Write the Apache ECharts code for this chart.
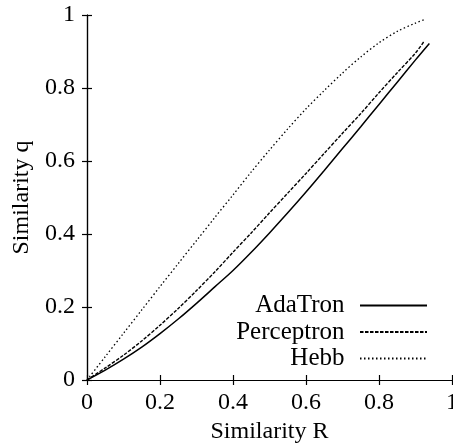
<!DOCTYPE html>
<html>
<head>
<meta charset="utf-8">
<script src="https://cdn.jsdelivr.net/npm/echarts@6/dist/echarts.min.js"></script>
<style>
html,body{margin:0;padding:0;background:#fff;}
#chart{width:453px;height:445px;}
</style>
</head>
<body>
<div id="chart"></div>
<script>
// Data
var seriesNames = ['AdaTron', 'Perceptron', 'Hebb'];
var adatronR = [0, 0.05, 0.1, 0.15, 0.2, 0.25, 0.3, 0.35, 0.4, 0.45, 0.5, 0.55, 0.6, 0.65, 0.7, 0.75, 0.8, 0.85, 0.9, 0.938];
var adatronQ = [0, 0.027, 0.057, 0.09, 0.127, 0.167, 0.21, 0.255, 0.30, 0.35, 0.403, 0.458, 0.515, 0.574, 0.634, 0.694, 0.755, 0.816, 0.877, 0.922];
var perceptronR = [0, 0.05, 0.1, 0.15, 0.2, 0.25, 0.3, 0.35, 0.4, 0.45, 0.5, 0.55, 0.6, 0.65, 0.7, 0.75, 0.8, 0.85, 0.9, 0.925];
var perceptronQ = [0, 0.033, 0.068, 0.107, 0.15, 0.196, 0.245, 0.296, 0.35, 0.403, 0.458, 0.512, 0.566, 0.621, 0.676, 0.73, 0.787, 0.842, 0.896, 0.93];
var hebbR = [0, 0.05, 0.1, 0.15, 0.2, 0.25, 0.3, 0.35, 0.4, 0.45, 0.5, 0.55, 0.6, 0.65, 0.7, 0.75, 0.8, 0.85, 0.9, 0.926];
var hebbQ = [0, 0.064, 0.128, 0.192, 0.256, 0.319, 0.382, 0.445, 0.507, 0.57, 0.63, 0.688, 0.743, 0.793, 0.841, 0.885, 0.924, 0.955, 0.978, 0.988];
var xTicks = [0, 0.2, 0.4, 0.6, 0.8, 1];
var yTicks = [0, 0.2, 0.4, 0.6, 0.8, 1];

function pairs(xs, ys) { return xs.map(function (x, i) { return [x, ys[i]]; }); }
function fmt(v) { return String(Math.round(v * 10) / 10); }

var font = '"Liberation Serif", "Times New Roman", Times, serif';
var fs = 24;

var chart = echarts.init(document.getElementById('chart'), null, {renderer: 'canvas'});
var baseAxis = {
  min: xTicks[0], max: xTicks[xTicks.length - 1], interval: 0.2,
  axisLine: {show: true, lineStyle: {color: '#000', width: 1.2}},
  axisTick: {show: true, inside: true, length: 5, lineStyle: {color: '#000', width: 1.2}},
  splitLine: {show: false}
};
chart.setOption({
  animation: false,
  backgroundColor: '#fff',
  grid: {left: 87, right: 1, top: 15, bottom: 65, containLabel: false, outerBoundsMode: 'none'},
  legend: {
    orient: 'vertical', align: 'right', right: 20, top: 288,
    itemWidth: 67, itemHeight: 14, itemGap: 1.5,
    itemStyle: {opacity: 0, borderWidth: 0},
    textStyle: {fontFamily: font, fontSize: 25, color: '#000', padding: [0, 10.5, 0, 0]},
    data: seriesNames
  },
  xAxis: [
    Object.assign({}, baseAxis, {
      type: 'value', position: 'bottom',
      name: 'Similarity R', nameLocation: 'middle', nameGap: 35,
      nameTextStyle: {fontFamily: font, fontSize: fs, color: '#000'},
      axisLabel: {fontFamily: font, fontSize: fs, color: '#000', margin: 11, formatter: fmt}
    }),
    Object.assign({}, baseAxis, {type: 'value', position: 'top', axisLabel: {show: false}})
  ],
  yAxis: [
    Object.assign({}, baseAxis, {
      type: 'value', position: 'left',
      min: yTicks[0], max: yTicks[yTicks.length - 1],
      name: 'Similarity q', nameLocation: 'middle', nameGap: 52, nameRotate: 90,
      nameTextStyle: {fontFamily: font, fontSize: fs, color: '#000'},
      axisLabel: {fontFamily: font, fontSize: fs, color: '#000', margin: 12, formatter: fmt}
    }),
    Object.assign({}, baseAxis, {type: 'value', position: 'right', min: yTicks[0], max: yTicks[yTicks.length - 1], axisLabel: {show: false}})
  ],
  series: [
    {name: seriesNames[0], type: 'line', data: pairs(adatronR, adatronQ), smooth: 0.3, symbol: 'none',
     lineStyle: {color: '#000', width: 1.5, type: 'solid'}, itemStyle: {color: '#000'}},
    {name: seriesNames[1], type: 'line', data: pairs(perceptronR, perceptronQ), smooth: 0.3, symbol: 'none',
     lineStyle: {color: '#000', width: 1.4, type: [3.5, 1.5]}, itemStyle: {color: '#000'}},
    {name: seriesNames[2], type: 'line', data: pairs(hebbR, hebbQ), smooth: 0.3, symbol: 'none',
     lineStyle: {color: '#000', width: 1.3, type: [1.5, 2.5]}, itemStyle: {color: '#000'}}
  ]
});
</script>
</body>
</html>
